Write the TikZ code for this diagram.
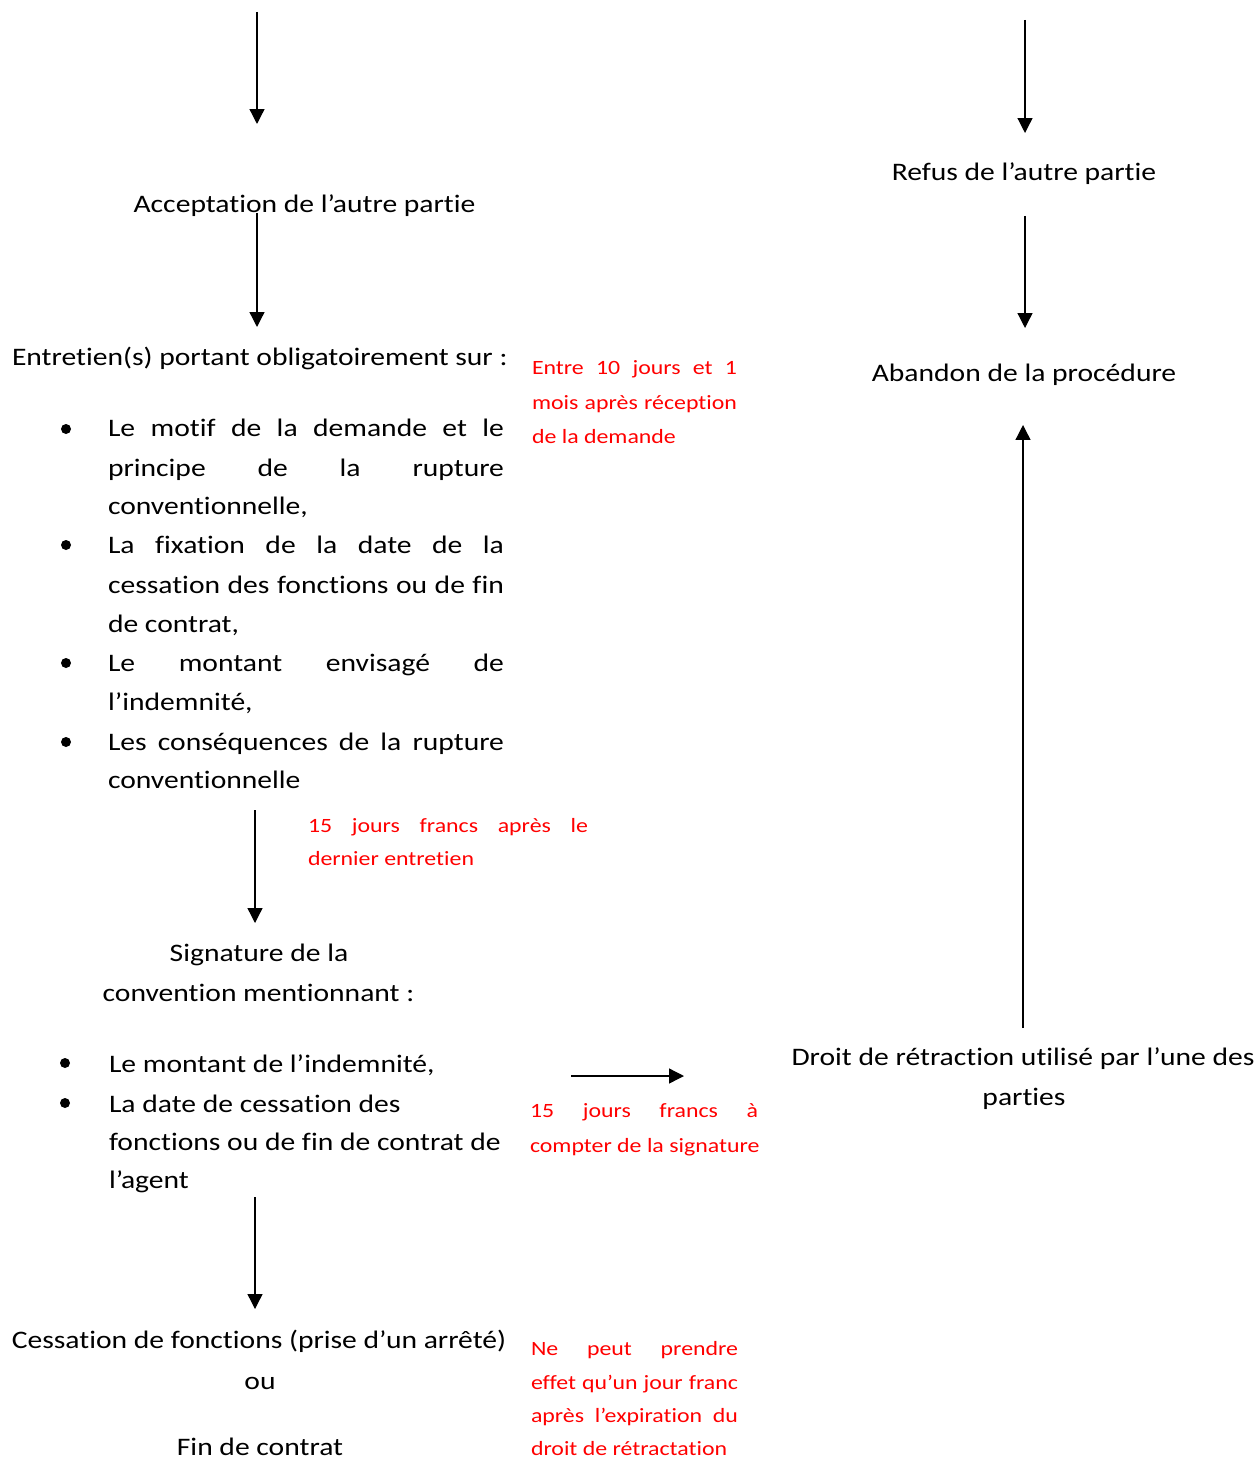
\documentclass[tikz,border=0pt]{standalone}
\usepackage{fontspec}
\setmainfont{Carlito}[FakeStretch=1.175, Ligatures={NoCommon,TeX}]
\usetikzlibrary{arrows.meta}
\newlength\px
\setlength\px{0.02cm}
\newcommand\mainsz{\fontsize{14.34pt}{22pt}\selectfont}
\newcommand\redsz{\fontsize{11.55pt}{19pt}\selectfont}
\newcommand\jl[2]{\makebox[#1\px][s]{#2}}
\tikzset{
  txt/.style={inner sep=0pt, outer sep=0pt, font=\mainsz},
  rtxt/.style={inner sep=0pt, outer sep=0pt, font=\redsz, text=red},
  arr/.style={line width=0.75pt, -{Triangle[length=8.5pt,width=8.5pt]}},
  dot/.style={circle, fill=black, inner sep=0pt, minimum size=10\px}
}
\begin{document}
\begin{tikzpicture}[x=0.02cm,y=-0.02cm]
\useasboundingbox (0,0) rectangle (1259,1459);
\fill[white] (0,0) rectangle (1259,1459);

% ---------- left column text ----------
\node[txt, anchor=base] (accept) at (304.5,213) {Acceptation de l’autre partie};
\node[txt, anchor=base west] (entre) at (12,366) {Entretien(s) portant obligatoirement sur :};

\node[dot] (d1) at (66,429) {};
\node[txt, anchor=base west] (l1) at (108,437) {\jl{396}{Le motif de la demande et le}};
\node[txt, anchor=base west] (l2) at (108,476) {\jl{396}{principe de la rupture}};
\node[txt, anchor=base west] (l3) at (108,514) {conventionnelle,};
\node[dot] (d2) at (66,545) {};
\node[txt, anchor=base west] (l4) at (108,553) {\jl{396}{La fixation de la date de la}};
\node[txt, anchor=base west] (l5) at (108,593) {\jl{396}{cessation des fonctions ou de fin}};
\node[txt, anchor=base west] (l6) at (108,632) {de contrat,};
\node[dot] (d3) at (66,663) {};
\node[txt, anchor=base west] (l7) at (108,671) {\jl{396}{Le montant envisagé de}};
\node[txt, anchor=base west] (l8) at (108,710) {l’indemnité,};
\node[dot] (d4) at (66,742) {};
\node[txt, anchor=base west] (l9) at (108,750) {\jl{396}{Les conséquences de la rupture}};
\node[txt, anchor=base west] (l10) at (108,788) {conventionnelle};

\node[txt, anchor=base] (sig1) at (259,961) {Signature de la};
\node[txt, anchor=base] (sig2) at (258.5,1001) {convention mentionnant :};

\node[dot] (d5) at (65,1063) {};
\node[txt, anchor=base west] (m1) at (109,1072) {Le montant de l’indemnité,};
\node[dot] (d6) at (65,1103) {};
\node[txt, anchor=base west] (m2) at (109,1112) {La date de cessation des};
\node[txt, anchor=base west] (m3) at (109,1150) {fonctions ou de fin de contrat de};
\node[txt, anchor=base west] (m4) at (109,1188) {l’agent};

\node[txt, anchor=base] (cess) at (259,1348) {Cessation de fonctions (prise d’un arrêté)};
\node[txt, anchor=base] (ou) at (260,1389) {ou};
\node[txt, anchor=base] (fin) at (260,1455) {Fin de contrat};

% ---------- red notes ----------
\node[rtxt, anchor=base west] (r1a) at (532,375) {\jl{205}{Entre 10 jours et 1}};
\node[rtxt, anchor=base west] (r1b) at (532,409) {\jl{205}{mois après réception}};
\node[rtxt, anchor=base west] (r1c) at (532,443) {de la demande};

\node[rtxt, anchor=base west] (r2a) at (308,832) {\jl{280}{15 jours francs après le}};
\node[rtxt, anchor=base west] (r2b) at (308,865) {dernier entretien};

\node[rtxt, anchor=base west] (r3a) at (530,1117) {\jl{228}{15 jours francs à}};
\node[rtxt, anchor=base west] (r3b) at (530,1152) {compter de la signature};

\node[rtxt, anchor=base west] (r4a) at (531,1355) {\jl{207}{Ne peut prendre}};
\node[rtxt, anchor=base west] (r4b) at (531,1389) {\jl{207}{effet qu’un jour franc}};
\node[rtxt, anchor=base west] (r4c) at (531,1422) {\jl{207}{après l’expiration du}};
\node[rtxt, anchor=base west] (r4d) at (531,1455) {droit de rétractation};

% ---------- right column text ----------
\node[txt, anchor=base] (refus) at (1024,181) {Refus de l’autre partie};
\node[txt, anchor=base] (aband) at (1024,381) {Abandon de la procédure};
\node[txt, anchor=base] (droit1) at (1023,1065) {Droit de rétraction utilisé par l’une des};
\node[txt, anchor=base] (droit2) at (1024,1105) {parties};

% ---------- arrow end points ----------
\coordinate (a1s) at (257,12);   \coordinate (a1e) at (257,124);
\coordinate (a2s) at (257,213);  \coordinate (a2e) at (257,327);
\coordinate (a3s) at (1025,20);  \coordinate (a3e) at (1025,133);
\coordinate (a4s) at (1025,216); \coordinate (a4e) at (1025,328);
\coordinate (a5s) at (255,810);  \coordinate (a5e) at (255,923);
\coordinate (a6s) at (571,1076); \coordinate (a6e) at (684,1076);
\coordinate (a7s) at (1023,1028);\coordinate (a7e) at (1023,425);
\coordinate (a8s) at (255,1197); \coordinate (a8e) at (255,1309);

\draw[arr] (a1s) -- (a1e);
\draw[arr] (a2s) -- (a2e);
\draw[arr] (a3s) -- (a3e);
\draw[arr] (a4s) -- (a4e);
\draw[arr] (a5s) -- (a5e);
\draw[arr] (a6s) -- (a6e);
\draw[arr] (a7s) -- (a7e);
\draw[arr] (a8s) -- (a8e);
\end{tikzpicture}
\end{document}
